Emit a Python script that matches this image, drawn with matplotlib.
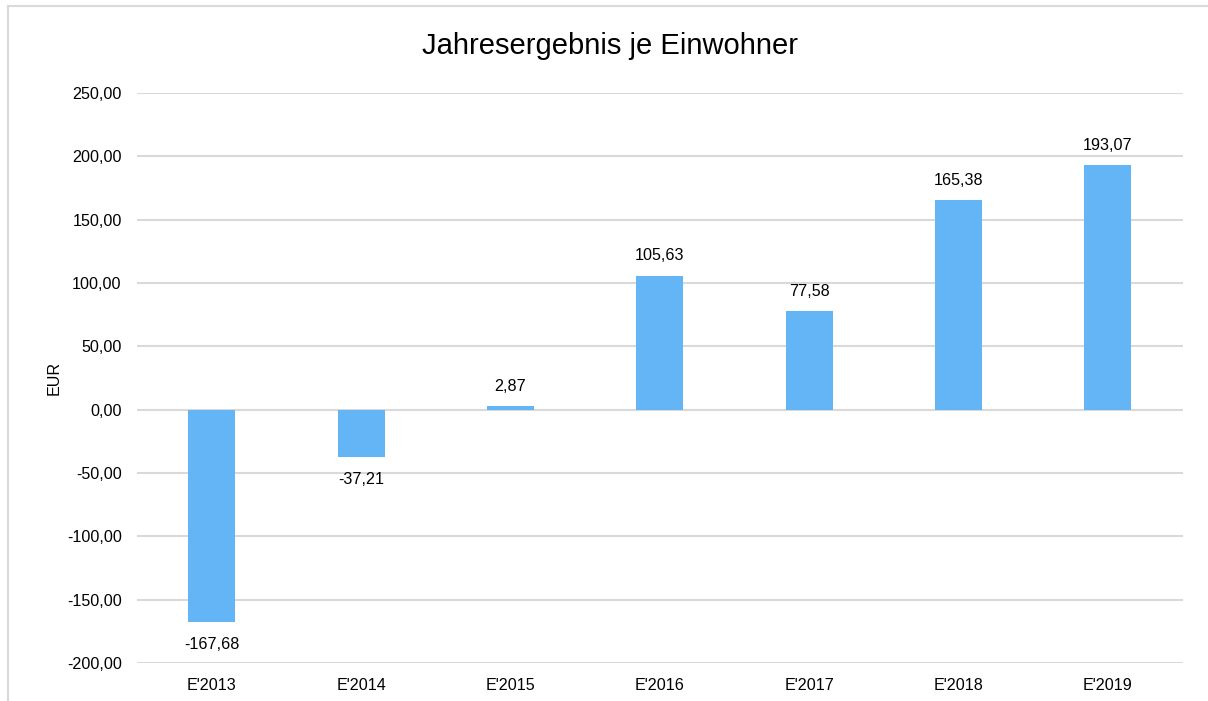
import matplotlib.pyplot as plt
from matplotlib.lines import Line2D

# Data
categories = ["E'2013", "E'2014", "E'2015", "E'2016", "E'2017", "E'2018", "E'2019"]
values = [-167.68, -37.21, 2.87, 105.63, 77.58, 165.38, 193.07]
yticks = [-200, -150, -100, -50, 0, 50, 100, 150, 200, 250]

plt.rcParams['font.family'] = ['Liberation Sans', 'DejaVu Sans']
fs = 11.6

def de_fmt(v):
    return f"{v:.2f}".replace('.', ',')

fig = plt.figure(figsize=(12.08, 7.01), dpi=100)
ax = fig.add_axes([0.1134, 0.0542, 0.979 - 0.1134, 0.8673 - 0.0542])

x = range(len(categories))
bars = ax.bar(x, values, width=0.315, color='#63B5F6', zorder=3)

ax.set_xlim(-0.5, len(categories) - 0.5)
ax.set_ylim(-200, 250)
ax.set_yticks(yticks)
ax.set_yticklabels([de_fmt(t) for t in yticks], fontsize=fs)
ax.set_xticks(list(x))
ax.set_xticklabels(categories, fontsize=fs)
ax.tick_params(axis='y', length=0, pad=11)
ax.tick_params(axis='x', length=0, pad=11)

ax.grid(axis='y', color='#d9d9d9', linewidth=1.5, zorder=0)
for s in ax.spines.values():
    s.set_visible(False)

# value labels
for b, v in zip(bars, values):
    xc = b.get_x() + b.get_width() / 2
    if v >= 0:
        ax.annotate(de_fmt(v), (xc, v), xytext=(0, 9), textcoords='offset points',
                    ha='center', va='bottom', fontsize=fs)
    else:
        ax.annotate(de_fmt(v), (xc, v), xytext=(0, -11), textcoords='offset points',
                    ha='center', va='top', fontsize=fs)

ax.set_ylabel('EUR', fontsize=fs, labelpad=4)
fig.text(0.505, 0.935, 'Jahresergebnis je Einwohner', ha='center', va='center', fontsize=21)

# light frame (top and left edges)
fig.add_artist(Line2D([8 / 1208, 1], [1 - 6 / 701, 1 - 6 / 701], transform=fig.transFigure,
                      color='#d9d9d9', linewidth=1.5))
fig.add_artist(Line2D([8 / 1208, 8 / 1208], [0, 1 - 6 / 701], transform=fig.transFigure,
                      color='#d9d9d9', linewidth=1.5))

plt.savefig('out.png', dpi=100)
